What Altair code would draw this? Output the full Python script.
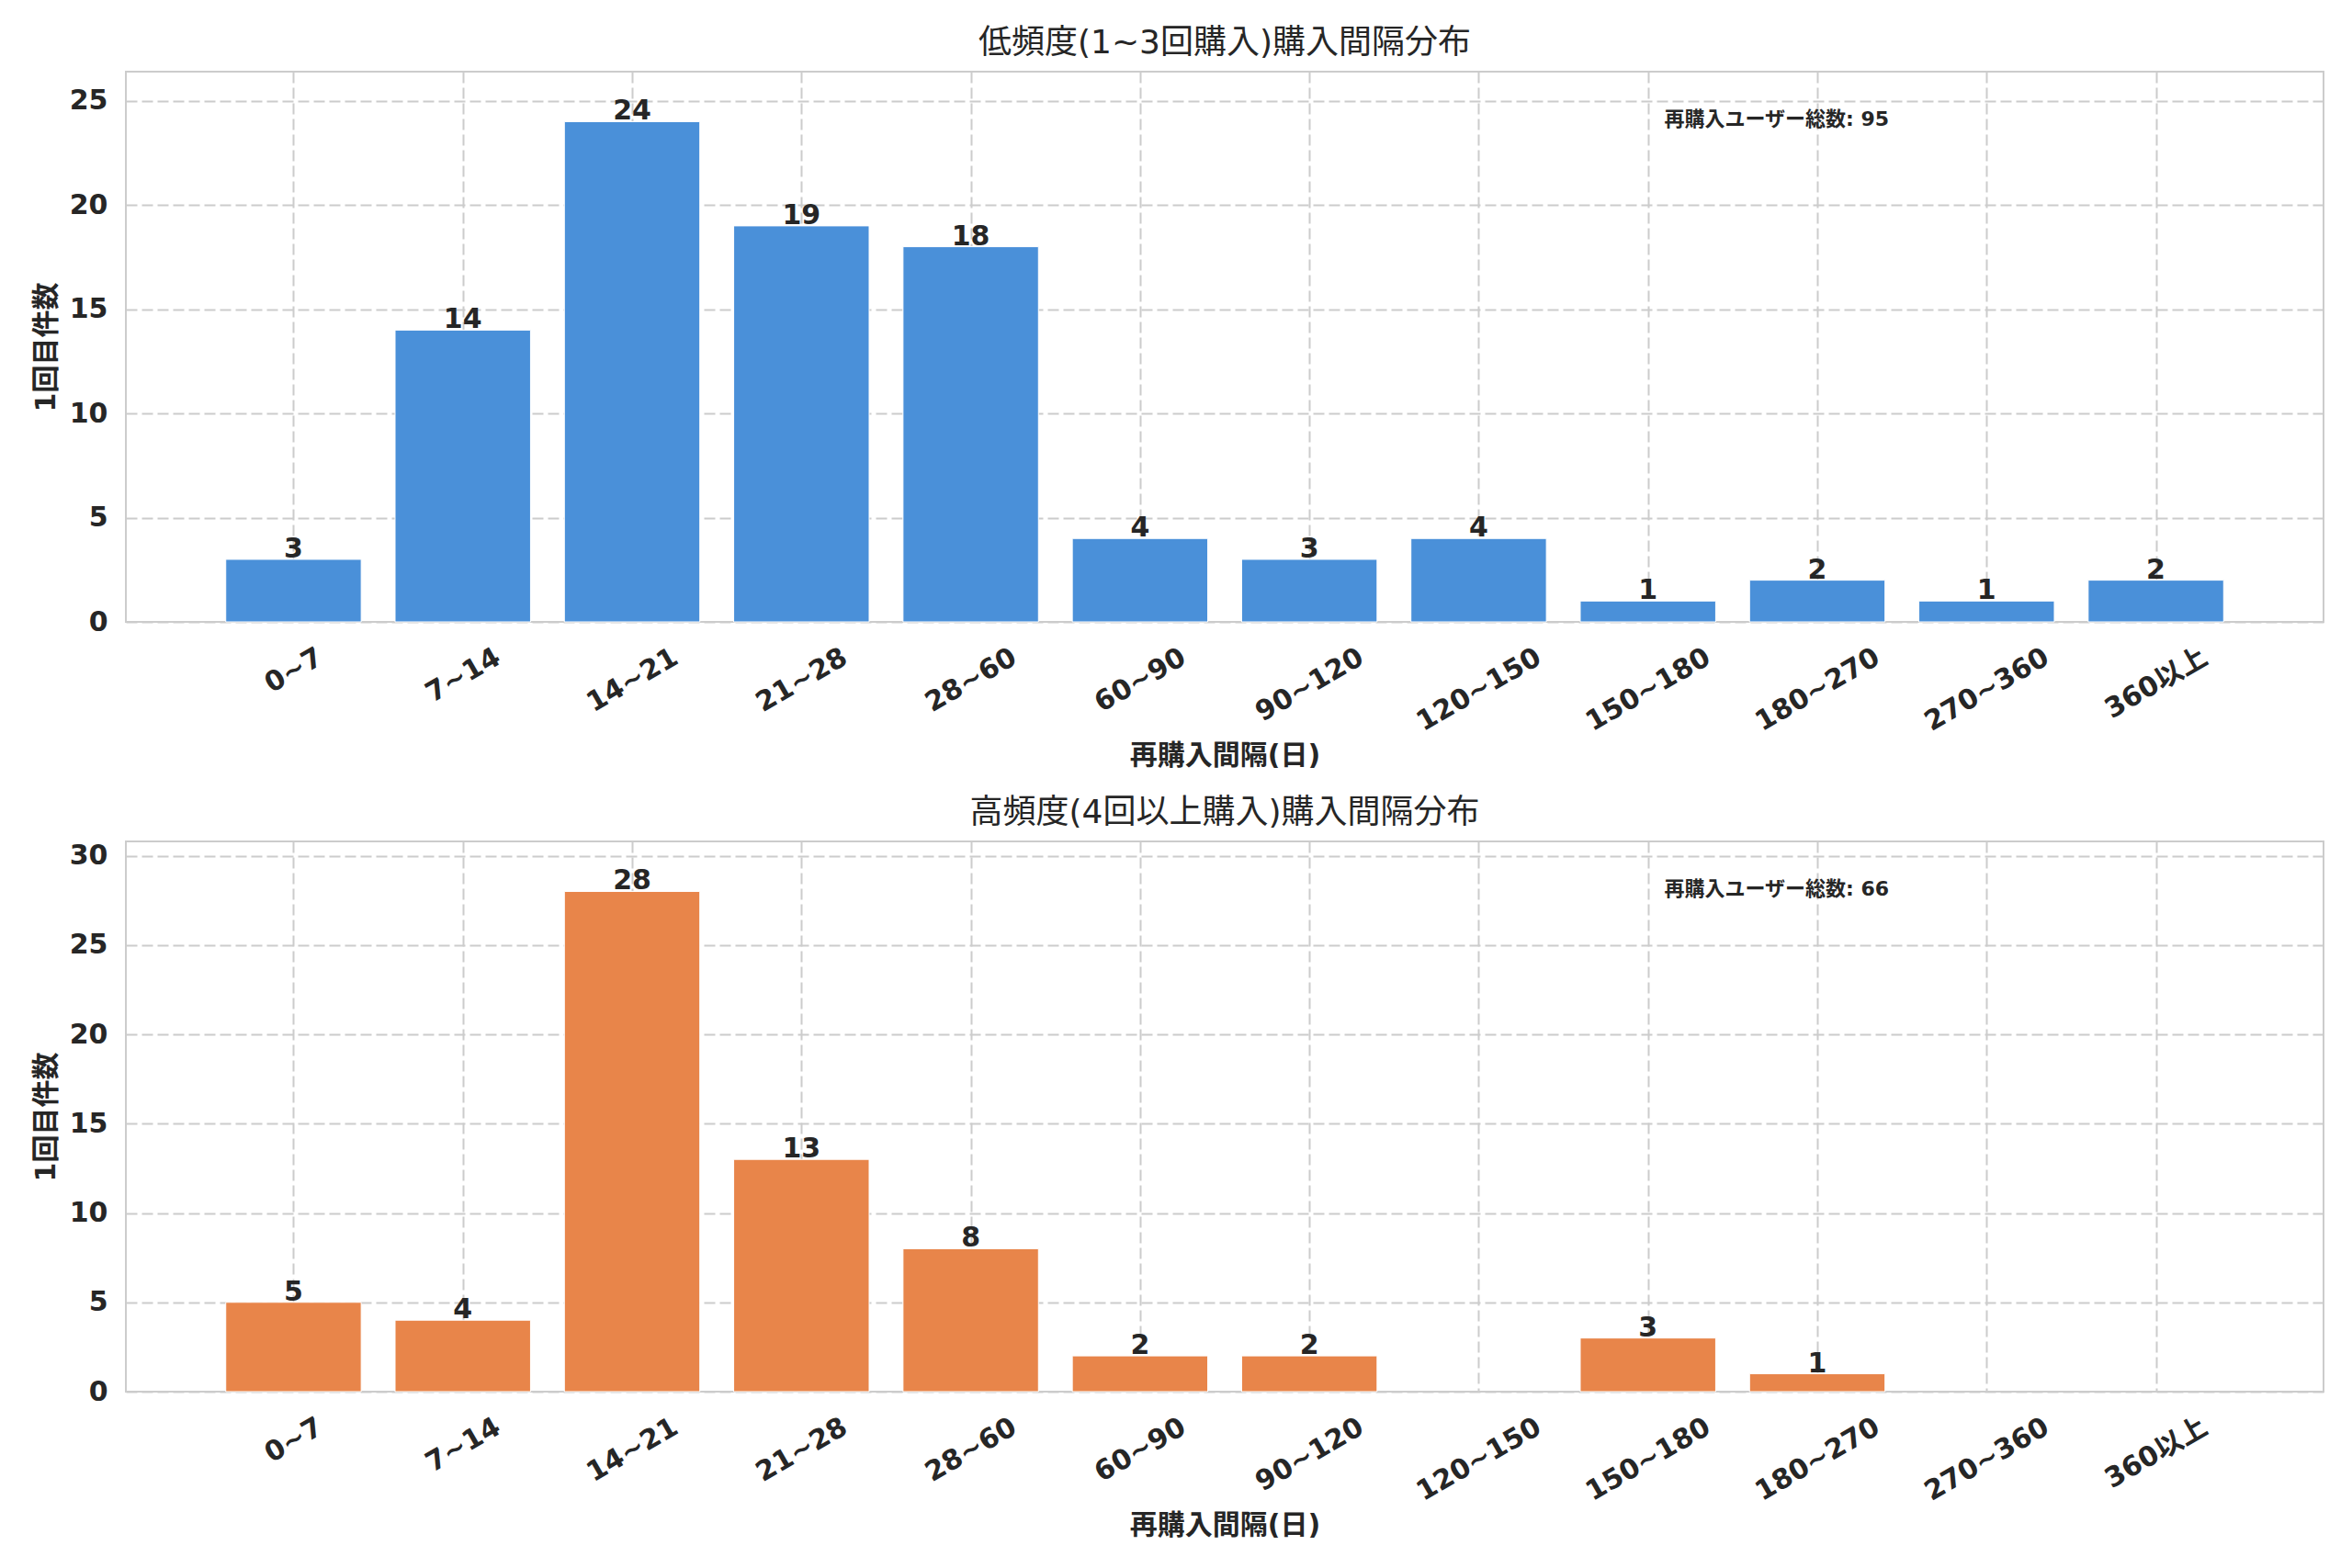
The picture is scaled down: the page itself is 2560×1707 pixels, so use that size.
import json
import altair as alt
import pandas as pd

# ---- data ----
categories = ["0~7", "7~14", "14~21", "21~28", "28~60", "60~90", "90~120",
              "120~150", "150~180", "180~270", "270~360", "360以上"]
low_counts = [3, 14, 24, 19, 18, 4, 3, 4, 1, 2, 1, 2]
high_counts = [5, 4, 28, 13, 8, 2, 2, 0, 3, 1, 0, 0]

titles = ["低頻度(1~3回購入)購入間隔分布", "高頻度(4回以上購入)購入間隔分布"]
x_title = "再購入間隔(日)"
y_title = "1回目件数"
total_label = "再購入ユーザー総数"
colors = ["#4A90D9", "#E8854A"]

# ---- style ----
W = 2392
H = 599
FONT = "DejaVu Sans, Noto Sans CJK JP"
TEXT = "#262626"
GRID = "#cccccc"
TICK_FS = 30


def text_w(s):
    return sum(20.9 if c.isdigit() else 25.1 if c == "~" else 30.0 for c in s)


pads = [round(36 + text_w(c) / 4, 1) for c in categories]
label_expr = json.dumps(categories, ensure_ascii=False) + "[datum.value]"
pad_expr = json.dumps(pads) + "[datum.value]"


def panel(counts, title, color):
    n = len(categories)
    df = pd.DataFrame({"idx": list(range(n)), "cat": categories, "count": counts})
    ymax = max(counts) * 1.1
    yvals = list(range(0, int(ymax) + 1, 5))
    xscale = alt.Scale(domain=[-0.99, n - 1 + 0.99], nice=False, zero=False)
    yscale = alt.Scale(domain=[0, ymax], nice=False, zero=True)

    xaxis = alt.Axis(
        values=list(range(n)), labelExpr=label_expr, title=x_title,
        grid=True, gridColor=GRID, gridDash=[12, 5], gridWidth=2,
        ticks=False, tickSize=0, domain=False,
        labelAngle=-30, labelAlign="center", labelBaseline="middle",
        labelPadding={"expr": pad_expr}, labelOverlap=False, labelFlush=False,
        labelBound=False,
        labelFont=FONT, labelFontSize=TICK_FS, labelFontWeight="bold", labelColor=TEXT,
        titleFont=FONT, titleFontSize=TICK_FS, titleFontWeight="bold", titleColor=TEXT,
        titlePadding=6,
    )
    yaxis = alt.Axis(
        values=yvals, title=y_title,
        grid=True, gridColor=GRID, gridDash=[12, 5], gridWidth=2,
        ticks=False, tickSize=0, domain=False, labelPadding=20,
        labelFont=FONT, labelFontSize=TICK_FS, labelFontWeight="bold", labelColor=TEXT,
        titleFont=FONT, titleFontSize=TICK_FS, titleFontWeight="bold", titleColor=TEXT,
        titlePadding=10,
    )

    base = alt.Chart(df).transform_filter("datum.count > 0").transform_calculate(
        x0="datum.idx - 0.4", x1="datum.idx + 0.4"
    )
    bars = base.mark_bar(color=color, stroke="white", strokeWidth=1).encode(
        x=alt.X("x0:Q", scale=xscale, axis=xaxis),
        x2="x1:Q",
        y=alt.Y("count:Q", scale=yscale, axis=yaxis),
        y2=alt.datum(0),
    )
    labels = base.mark_text(
        baseline="alphabetic", dy=-2, fontSize=TICK_FS, fontWeight="bold",
        font=FONT, color=TEXT,
    ).encode(
        x=alt.X("idx:Q", scale=xscale, axis=xaxis),
        y=alt.Y("count:Q", scale=yscale, axis=yaxis),
        text="count:Q",
    )
    ann_df = pd.DataFrame({"t": [f"{total_label}: {sum(counts)}"]})
    ann = alt.Chart(ann_df).mark_text(
        align="left", baseline="alphabetic", fontSize=22, fontWeight="bold",
        font=FONT, color=TEXT,
    ).encode(x=alt.value(0.70 * W), y=alt.value(0.098 * H), text="t:N")

    return alt.layer(bars, labels, ann).properties(
        width=W, height=H,
        title=alt.TitleParams(title, font=FONT, fontSize=36, fontWeight="normal",
                              color=TEXT, offset=12, anchor="middle"),
    )


chart = alt.vconcat(
    panel(low_counts, titles[0], colors[0]),
    panel(high_counts, titles[1], colors[1]),
    spacing=27,
).properties(
    padding={"left": 26, "top": 20, "right": 10, "bottom": 10},
    background="white",
).configure_view(stroke=GRID, strokeWidth=2)

chart.save("out.html", embed_options={"renderer": "svg", "actions": False})
